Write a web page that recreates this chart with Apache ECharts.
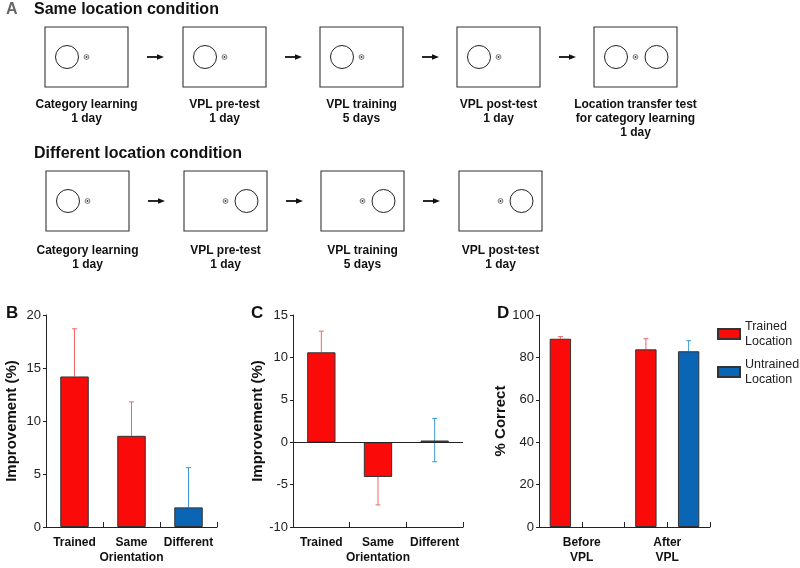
<!DOCTYPE html>
<html>
<head>
<meta charset="utf-8">
<script src="https://cdn.jsdelivr.net/npm/echarts@6/dist/echarts.min.js"></script>
<style>
html, body { margin: 0; padding: 0; background: #fff; }
#chart { width: 800px; height: 568px; }
</style>
</head>
<body>
<div id="chart"></div>
<script>
// ---- panel A: procedure ----
const sameSteps = [
  ['Category learning', '1 day'],
  ['VPL pre-test', '1 day'],
  ['VPL training', '5 days'],
  ['VPL post-test', '1 day'],
  ['Location transfer test', 'for category learning', '1 day']
];
const sameStimuli = [['L'], ['L'], ['L'], ['L'], ['L', 'R']];
const diffSteps = [
  ['Category learning', '1 day'],
  ['VPL pre-test', '1 day'],
  ['VPL training', '5 days'],
  ['VPL post-test', '1 day']
];
const diffStimuli = [['L'], ['R'], ['R'], ['R']];

// ---- panel B ----
const bCategories = ['Trained', 'Same\nOrientation', 'Different'];
const bMeans = [14.2, 8.6, 1.85];
const bErrLow = [14.2, 8.6, 1.85];
const bErrHigh = [18.7, 11.8, 5.6];

// ---- panel C ----
const cCategories = ['Trained', 'Same\nOrientation', 'Different'];
const cMeans = [10.6, -4.1, 0.2];
const cErrLow = [10.6, -7.4, -2.3];
const cErrHigh = [13.1, -4.1, 2.8];

// ---- panel D ----
const dGroups = ['Before\nVPL', 'After\nVPL'];
const dTrained = [88.8, 83.8];
const dTrainedErr = [89.8, 88.8];
const dUntrained = [null, 82.9];
const dUntrainedErr = [null, 87.9];

const RED = '#fb0a0a';
const BLUE = '#0a66b4';
const RED_ERR = '#f46464';
const BLUE_ERR = '#3c98d8';
const FONT = 'Liberation Sans, Arial, sans-serif';
const panelColors = [RED, RED, BLUE];
const panelErrColors = [RED_ERR, RED_ERR, BLUE_ERR];

// 刺激框
const boxW = 83, boxH = 60;
function stimBox(x, y, stims) {
  const cy = y + boxH / 2;
  const els = [{
    type: 'rect', shape: { x: x, y: y, width: boxW, height: boxH },
    style: { fill: '#fff', stroke: '#333', lineWidth: 1.1 }
  }];
  stims.forEach(s => {
    els.push({
      type: 'circle', shape: { cx: x + (s === 'L' ? 22 : 62.5), cy: cy, r: 11.5 },
      style: { fill: 'none', stroke: '#222', lineWidth: 1 }
    });
  });
  els.push({ type: 'circle', shape: { cx: x + 41.5, cy: cy, r: 2.4 }, style: { fill: 'none', stroke: '#555', lineWidth: 0.8 } });
  els.push({ type: 'circle', shape: { cx: x + 41.5, cy: cy, r: 0.9 }, style: { fill: '#333' } });
  return els;
}

function arrow(x, y) {
  return [
    { type: 'line', shape: { x1: x, y1: y, x2: x + 11, y2: y }, style: { stroke: '#111', lineWidth: 1.8 } },
    { type: 'polygon', shape: { points: [[x + 10, y - 2.8], [x + 17, y], [x + 10, y + 2.8]] }, style: { fill: '#111' } }
  ];
}

function stepRow(steps, stims, xs, y, textY) {
  let els = [];
  steps.forEach((lines, i) => {
    els = els.concat(stimBox(xs[i], y, stims[i]));
    els.push({
      type: 'text',
      style: {
        x: xs[i] + boxW / 2, y: textY, text: lines.join('\n'),
        font: 'bold 12px ' + FONT, fill: '#111', align: 'center', verticalAlign: 'top', lineHeight: 14
      }
    });
    if (i < steps.length - 1) els = els.concat(arrow(xs[i] + boxW + 19, y + boxH / 2));
  });
  return els;
}

function titleText(x, y, text, size, color) {
  return {
    type: 'text',
    style: { x: x, y: y, text: text, font: 'bold ' + size + 'px ' + FONT, fill: color || '#111', verticalAlign: 'middle' }
  };
}

const graphics = [
  titleText(6, 10, 'A', 16, '#666'),
  titleText(34, 10, 'Same location condition', 16),
  titleText(34, 154, 'Different location condition', 16),
  titleText(6, 313, 'B', 17),
  titleText(251, 313, 'C', 17),
  titleText(497, 313, 'D', 17)
].concat(
  stepRow(sameSteps, sameStimuli, [45, 183, 320, 457, 594], 27, 98),
  stepRow(diffSteps, diffStimuli, [46, 184, 321, 459], 171, 244)
);

// 误差线
function errorSeries(xAxisIndex, yAxisIndex, data, colors) {
  return {
    type: 'custom',
    xAxisIndex: xAxisIndex,
    yAxisIndex: yAxisIndex,
    z: 1,
    silent: true,
    encode: { x: 0, y: [1, 2] },
    data: data,
    renderItem: (params, api) => {
      const i = api.value(0);
      const low = api.value(1), high = api.value(2), mean = api.value(3);
      const p1 = api.coord([i, low]);
      const p2 = api.coord([i, high]);
      const style = { stroke: colors[i], lineWidth: 1 };
      const children = [{ type: 'line', shape: { x1: p1[0], y1: p1[1], x2: p2[0], y2: p2[1] }, style: style }];
      if (high > mean) children.push({ type: 'line', shape: { x1: p2[0] - 2.5, y1: p2[1], x2: p2[0] + 2.5, y2: p2[1] }, style: style });
      if (low < mean) children.push({ type: 'line', shape: { x1: p1[0] - 2.5, y1: p1[1], x2: p1[0] + 2.5, y2: p1[1] }, style: style });
      return { type: 'group', children: children };
    }
  };
}

const axisLine = { show: true, onZero: false, lineStyle: { color: '#222', width: 1 } };
function catAxis(gridIndex, data) {
  return {
    type: 'category', gridIndex: gridIndex, data: data, position: 'bottom',
    axisLine: axisLine,
    axisTick: { show: true, inside: true, length: 5, lineStyle: { color: '#222' } },
    axisLabel: { color: '#111', fontFamily: FONT, fontWeight: 'bold', fontSize: 12, lineHeight: 15, margin: 8, interval: 0 }
  };
}
function valAxis(gridIndex, min, max, interval, name) {
  return {
    type: 'value', gridIndex: gridIndex, min: min, max: max, interval: interval,
    name: name, nameLocation: 'middle', nameGap: 27,
    nameTextStyle: { color: '#111', fontFamily: FONT, fontWeight: 'bold', fontSize: 15 },
    axisLine: axisLine,
    axisTick: { show: true, length: 3, lineStyle: { color: '#222' } },
    axisLabel: { color: '#222', fontFamily: FONT, fontSize: 13, margin: 5 },
    splitLine: { show: false }
  };
}

// D 四个位置：训练前(训练/未训练)，训练后(训练/未训练)
const dSlots = ['', '', '', ''];
const dTrainedSlots = [dTrained[0], null, dTrained[1], null];
const dUntrainedSlots = [null, dUntrained[0], null, dUntrained[1]];
const dErrData = [];
dTrained.forEach((v, g) => { if (v != null) dErrData.push([g * 2, v, dTrainedErr[g], v]); });
dUntrained.forEach((v, g) => { if (v != null) dErrData.push([g * 2 + 1, v, dUntrainedErr[g], v]); });
const dErrColors = [RED_ERR, BLUE_ERR, RED_ERR, BLUE_ERR];

const barBorder = { borderColor: '#333', borderWidth: 1 };

const option = {
  animation: false,
  textStyle: { fontFamily: FONT },
  graphic: graphics,
  legend: {
    data: ['Trained\nLocation', 'Untrained\nLocation'],
    orient: 'vertical',
    left: 712, top: 314,
    icon: 'rect',
    itemWidth: 22, itemHeight: 10, itemGap: 8,
    textStyle: { color: '#222', fontFamily: FONT, fontSize: 12.5, lineHeight: 15 }
  },
  grid: [
    { left: 46, top: 315, width: 171, height: 212 },
    { left: 293, top: 315, width: 170, height: 212 },
    { left: 539, top: 315, width: 171, height: 212 }
  ],
  xAxis: [
    catAxis(0, bCategories),
    catAxis(1, cCategories),
    Object.assign(catAxis(2, dSlots), { axisLabel: { show: false } }),
    Object.assign(catAxis(2, dGroups), { axisLine: { show: false }, axisTick: { show: false } })
  ],
  yAxis: [
    valAxis(0, 0, 20, 5, 'Improvement (%)'),
    valAxis(1, -10, 15, 5, 'Improvement (%)'),
    valAxis(2, 0, 100, 20, '% Correct')
  ],
  series: [
    {
      type: 'bar', xAxisIndex: 0, yAxisIndex: 0, barWidth: '50%', z: 2,
      data: bMeans.map((v, i) => ({ value: v, itemStyle: Object.assign({ color: panelColors[i] }, barBorder) }))
    },
    errorSeries(0, 0, bMeans.map((m, i) => [i, bErrLow[i], bErrHigh[i], m]), panelErrColors),
    {
      type: 'bar', xAxisIndex: 1, yAxisIndex: 1, barWidth: '50%', z: 2,
      data: cMeans.map((v, i) => ({ value: v, itemStyle: Object.assign({ color: panelColors[i] }, barBorder) })),
      markLine: {
        silent: true, symbol: 'none', label: { show: false },
        lineStyle: { color: '#222', width: 1, type: 'solid' },
        data: [{ yAxis: 0 }]
      }
    },
    errorSeries(1, 1, cMeans.map((m, i) => [i, cErrLow[i], cErrHigh[i], m]), panelErrColors),
    {
      name: 'Trained\nLocation', type: 'bar', xAxisIndex: 2, yAxisIndex: 2, barWidth: '50%', barGap: '-100%', z: 2,
      itemStyle: Object.assign({ color: RED }, barBorder),
      data: dTrainedSlots
    },
    {
      name: 'Untrained\nLocation', type: 'bar', xAxisIndex: 2, yAxisIndex: 2, barWidth: '50%', barGap: '-100%', z: 2,
      itemStyle: Object.assign({ color: BLUE }, barBorder),
      data: dUntrainedSlots
    },
    errorSeries(2, 2, dErrData, dErrColors)
  ]
};

const chart = echarts.init(document.getElementById('chart'));
chart.setOption(option);
</script>
</body>
</html>
